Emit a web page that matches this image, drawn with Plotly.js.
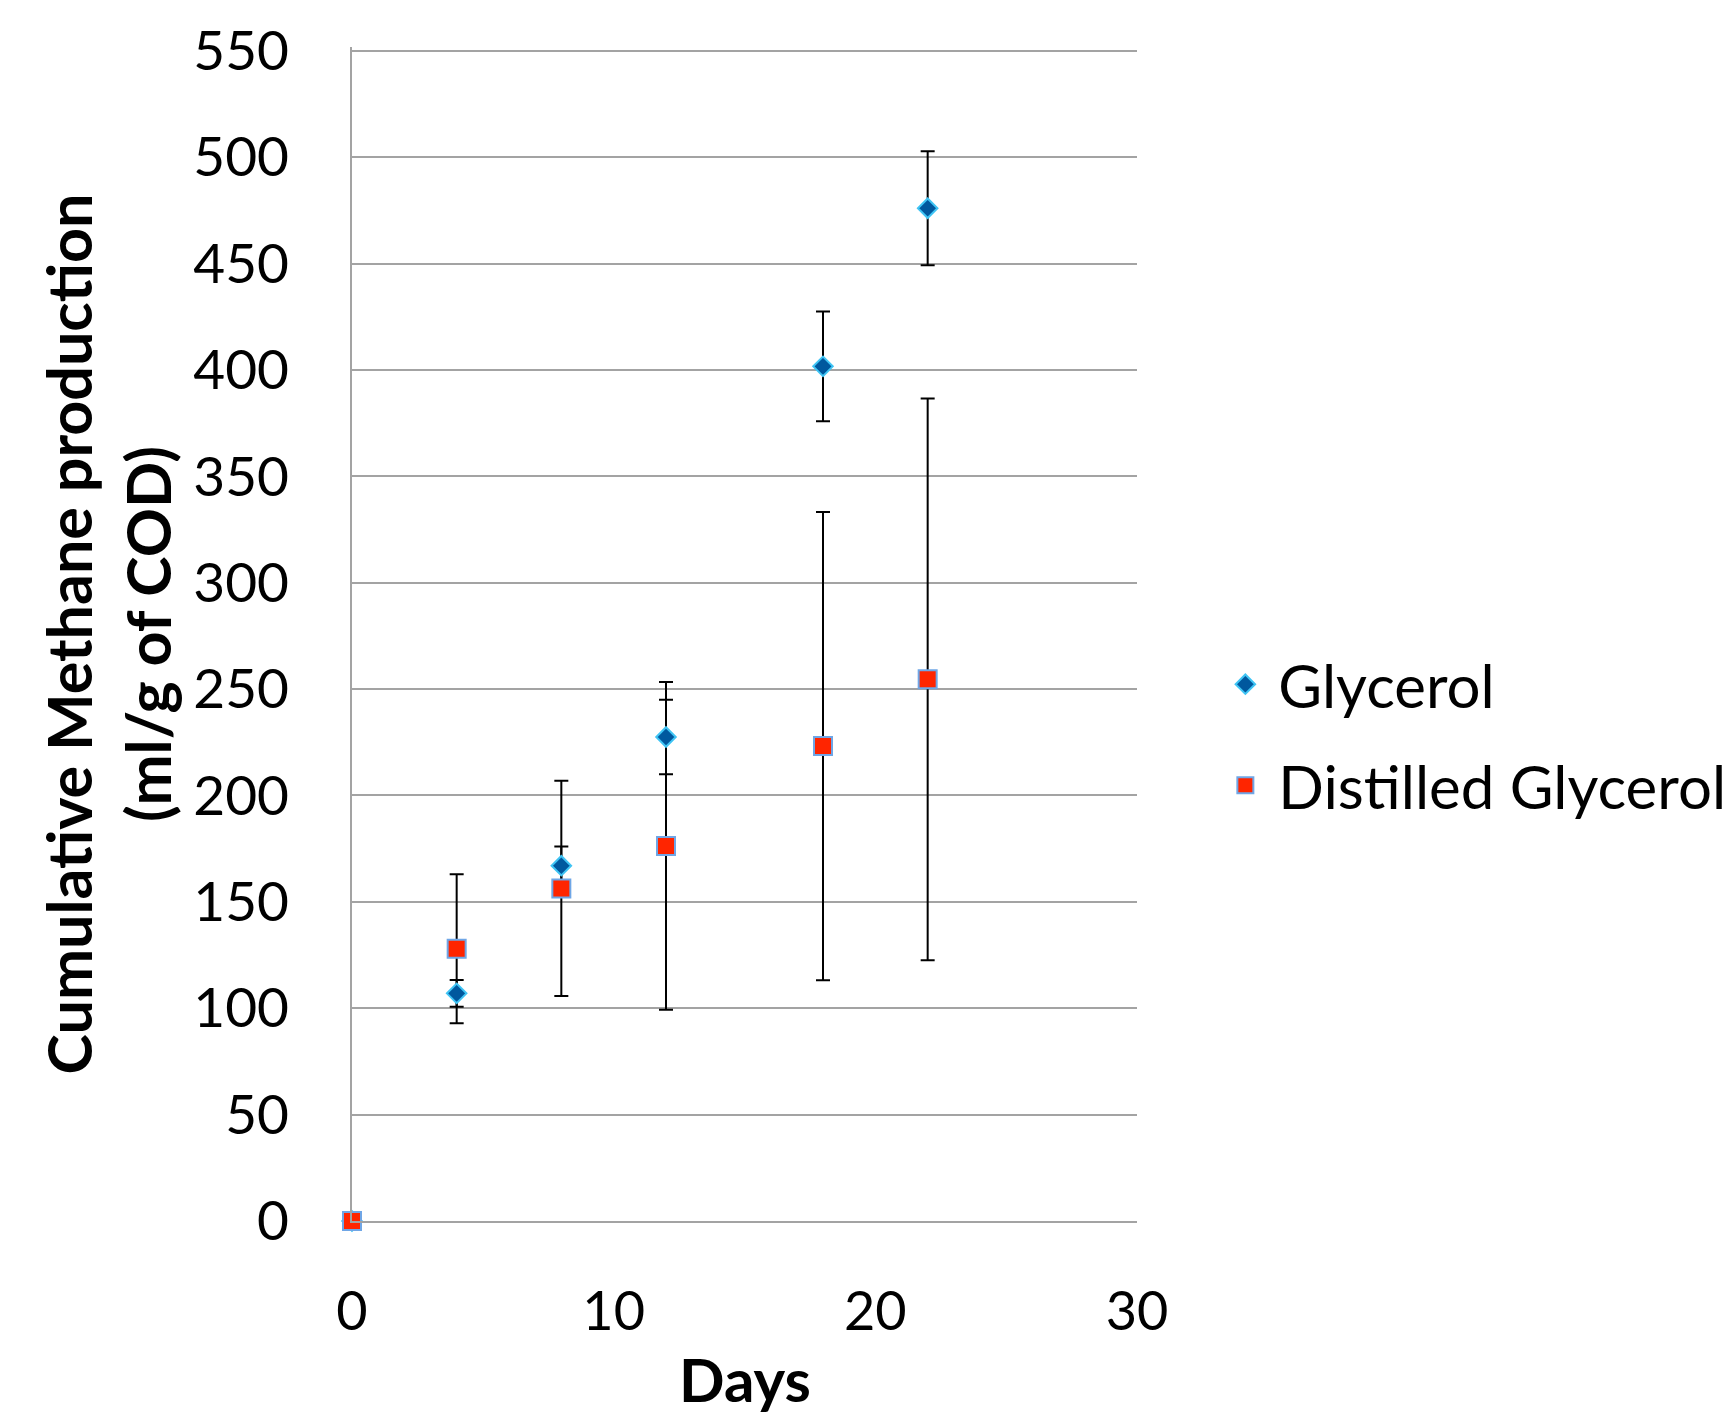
<!DOCTYPE html>
<html>
<head>
<meta charset="utf-8">
<script src="https://cdn.plot.ly/plotly-3.0.1.min.js"></script>
<style>
  html, body { margin: 0; padding: 0; background: #fff; }
  #chart { width: 1729px; height: 1417px; }
</style>
</head>
<body>
<div id="chart"></div>
<script>
// ---- data ----
const days = [0, 4, 8, 12, 18, 22];
const glycerol = [0, 107, 167, 227.5, 401.7, 476];
const glycerolErr = [0, 6.3, 9, 17.5, 25.8, 26.8];
const distilled = [0, 128, 156.3, 176.3, 223.2, 254.6];
const distilledErr = [0, 35, 50.6, 77, 110, 132];
const seriesNames = ['Glycerol', 'Distilled Glycerol'];
const xTitle = 'Days';
const yTitle = 'Cumulative Methane production<br>(ml/g of COD)';

const FONT = 'Lato, "Open Sans", sans-serif';

function errTrace(y, err, group) {
  return {
    x: days, y: y, type: 'scatter', mode: 'markers',
    marker: { size: 1, opacity: 0 },
    error_y: { type: 'data', array: err, visible: true, color: '#000', thickness: 2, width: 7 },
    showlegend: false, hoverinfo: 'skip', legendgroup: group, cliponaxis: false
  };
}

const traces = [
  errTrace(glycerol, glycerolErr, 'g'),
  errTrace(distilled, distilledErr, 'd'),
  {
    x: days, y: glycerol, type: 'scatter', mode: 'markers', name: seriesNames[0],
    legendgroup: 'g', cliponaxis: false,
    marker: { symbol: 'diamond', size: 15, color: '#00589e', line: { color: '#3fc4f4', width: 2 } }
  },
  {
    x: days, y: distilled, type: 'scatter', mode: 'markers', name: seriesNames[1],
    legendgroup: 'd', cliponaxis: false,
    marker: { symbol: 'square', size: 18, color: '#ff2500', line: { color: '#6fa6e6', width: 2 } }
  }
];

const layout = {
  width: 1729, height: 1417,
  paper_bgcolor: '#fff', plot_bgcolor: '#fff',
  margin: { l: 352, r: 592, t: 47, b: 196, pad: 0, autoexpand: false },
  font: { family: FONT, color: '#000', size: 54 },
  showlegend: true,
  legend: {
    x: 1.096, xanchor: 'left', y: 0.496, yanchor: 'top',
    font: { family: FONT, size: 60, color: '#000' },
    traceorder: 'grouped', tracegroupgap: 20, itemwidth: 56,
    bgcolor: 'rgba(0,0,0,0)', borderwidth: 0
  },
  annotations: [{
    text: xTitle, xref: 'paper', yref: 'paper', x: 0.5, y: 0,
    xanchor: 'center', yanchor: 'top', yshift: -120, showarrow: false,
    font: { family: FONT, size: 60, color: '#000', weight: 'bold' }
  }],
  xaxis: {
    range: [0, 30], dtick: 10, tick0: 0,
    showgrid: false, zeroline: false,
    showline: true, linecolor: '#a3a3a3', linewidth: 2,
    ticks: '', ticklabelstandoff: 42,
    tickfont: { family: FONT, size: 54, color: '#000' },
    automargin: false, fixedrange: true
  },
  yaxis: {
    range: [0, 551.8], dtick: 50, tick0: 0,
    showgrid: true, gridcolor: '#a3a3a3', gridwidth: 2,
    zeroline: false,
    showline: true, linecolor: '#a3a3a3', linewidth: 2,
    ticks: '', ticklabelstandoff: 50,
    tickfont: { family: FONT, size: 55, color: '#000' },
    title: { text: yTitle, standoff: 2, font: { family: FONT, size: 61, color: '#000', weight: 'bold' } },
    automargin: false, fixedrange: true
  }
};

Plotly.newPlot('chart', traces, layout, { staticPlot: true, displayModeBar: false });
</script>
</body>
</html>
